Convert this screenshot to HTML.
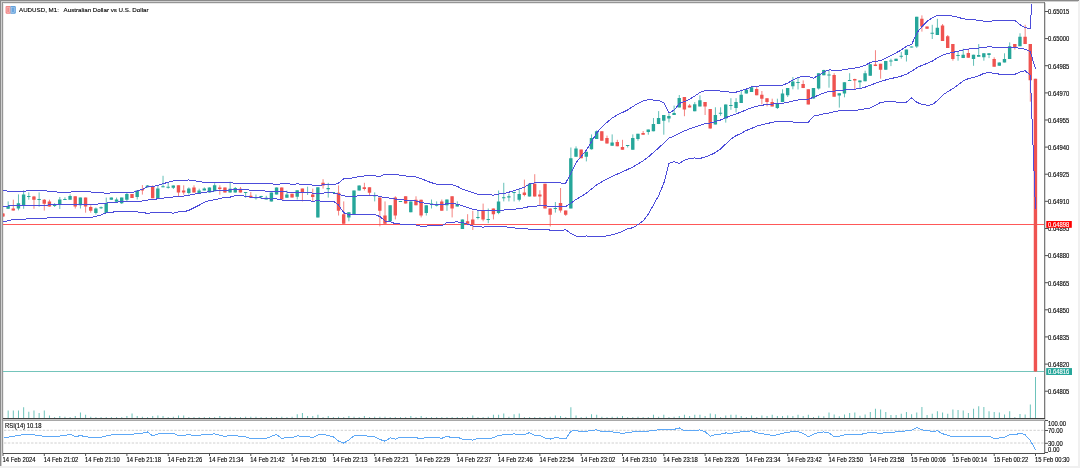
<!DOCTYPE html><html><head><meta charset="utf-8"><style>
html,body{margin:0;padding:0;width:1080px;height:468px;overflow:hidden;background:#f0f0f0;}
svg{display:block;position:absolute;left:0;top:0;}
text{font-family:"Liberation Sans",sans-serif;}
</style></head><body>
<svg width="1080" height="468" viewBox="0 0 1080 468">
<rect x="0" y="0" width="1078" height="466" fill="#ffffff"/>
<rect x="0" y="0" width="1079" height="1" fill="#8a8a8a"/>
<rect x="0" y="0" width="1" height="466" fill="#8a8a8a"/>
<rect x="1" y="1" width="1077" height="1" fill="#d0d0d0"/>
<rect x="1" y="1" width="1" height="465" fill="#d0d0d0"/>
<rect x="2" y="2" width="1043" height="1" fill="#959595"/>
<rect x="2" y="2" width="1" height="451" fill="#959595"/>
<rect x="3" y="3" width="1041" height="1" fill="#e8e8e8"/>
<rect x="3" y="3" width="1" height="450" fill="#ececec"/>
<defs><filter id="gs" x="0" y="0" width="1" height="1"><feColorMatrix type="saturate" values="0"/></filter><clipPath id="mc"><rect x="3" y="4" width="1041" height="414"/></clipPath>
<clipPath id="rc"><rect x="4" y="421" width="1040" height="32"/></clipPath></defs>
<g clip-path="url(#mc)">
<rect x="3" y="224" width="1041" height="1" fill="#ff5858"/>
<rect x="3" y="371" width="1041" height="1" fill="#74c4bb"/>
<path d="M8.16 418.00V410.50M13.32 418.00V410.50M18.49 418.00V410.50M23.65 418.00V407.25M28.81 418.00V411.75M33.97 418.00V410.50M39.14 418.00V413.00M44.30 418.00V410.50M49.46 418.00V415.50M54.62 418.00V417.10M59.79 418.00V416.00M64.95 418.00V416.75M70.11 418.00V417.10M75.27 418.00V416.00M80.44 418.00V412.50M85.60 418.00V414.75M90.76 418.00V416.75M95.92 418.00V417.10M101.09 418.00V417.10M106.25 418.00V417.10M111.41 418.00V417.10M116.57 418.00V417.10M121.74 418.00V417.10M126.90 418.00V416.00M132.06 418.00V413.50M137.22 418.00V416.00M142.39 418.00V416.75M147.55 418.00V417.10M152.71 418.00V416.00M157.88 418.00V415.50M163.04 418.00V416.00M168.20 418.00V417.10M173.36 418.00V416.75M178.52 418.00V415.50M183.69 418.00V415.50M188.85 418.00V417.10M194.01 418.00V417.10M199.17 418.00V417.10M204.34 418.00V417.10M209.50 418.00V417.10M214.66 418.00V417.10M219.82 418.00V416.00M224.99 418.00V417.10M230.15 418.00V416.75M235.31 418.00V417.10M240.47 418.00V417.10M245.64 418.00V416.75M250.80 418.00V416.75M255.96 418.00V416.75M261.12 418.00V417.10M266.29 418.00V417.10M271.45 418.00V417.10M276.61 418.00V417.10M281.77 418.00V416.75M286.94 418.00V417.10M292.10 418.00V416.75M297.26 418.00V414.25M302.42 418.00V413.00M307.59 418.00V416.00M312.75 418.00V416.00M317.91 418.00V414.75M323.07 418.00V417.10M328.24 418.00V416.00M333.40 418.00V417.10M338.56 418.00V416.75M343.72 418.00V417.10M348.89 418.00V416.00M354.05 418.00V416.75M359.21 418.00V417.10M364.38 418.00V416.00M369.54 418.00V417.10M374.70 418.00V416.75M379.86 418.00V416.75M385.02 418.00V416.75M390.19 418.00V417.10M395.35 418.00V417.10M400.51 418.00V417.10M405.67 418.00V417.10M410.84 418.00V416.00M416.00 418.00V417.10M421.16 418.00V416.00M426.32 418.00V417.10M431.49 418.00V417.10M436.65 418.00V417.10M441.81 418.00V417.10M446.97 418.00V417.10M452.14 418.00V417.10M457.30 418.00V417.10M462.46 418.00V417.10M467.62 418.00V417.10M472.79 418.00V415.50M477.95 418.00V417.10M483.11 418.00V417.10M488.27 418.00V416.75M493.44 418.00V414.75M498.60 418.00V414.75M503.76 418.00V413.50M508.92 418.00V416.75M514.09 418.00V414.25M519.25 418.00V413.50M524.41 418.00V417.10M529.57 418.00V417.10M534.74 418.00V417.10M539.90 418.00V417.10M545.06 418.00V417.10M550.22 418.00V416.75M555.39 418.00V415.50M560.55 418.00V416.00M565.71 418.00V417.10M570.88 418.00V407.25M576.04 418.00V415.50M581.20 418.00V417.10M586.36 418.00V416.75M591.52 418.00V414.25M596.69 418.00V414.75M601.85 418.00V416.75M607.01 418.00V417.10M612.17 418.00V416.75M617.34 418.00V416.75M622.50 418.00V416.00M627.66 418.00V417.10M632.82 418.00V417.10M637.99 418.00V416.75M643.15 418.00V417.10M648.31 418.00V417.10M653.47 418.00V414.75M658.64 418.00V416.75M663.80 418.00V414.75M668.96 418.00V417.10M674.12 418.00V416.75M679.29 418.00V416.00M684.45 418.00V414.75M689.61 418.00V416.00M694.77 418.00V414.75M699.94 418.00V414.75M705.10 418.00V416.00M710.26 418.00V413.50M715.42 418.00V414.25M720.59 418.00V417.10M725.75 418.00V415.50M730.91 418.00V414.75M736.07 418.00V414.75M741.24 418.00V416.00M746.40 418.00V417.10M751.56 418.00V415.50M756.72 418.00V417.10M761.89 418.00V415.50M767.05 418.00V416.00M772.21 418.00V414.75M777.38 418.00V416.00M782.54 418.00V416.00M787.70 418.00V415.50M792.86 418.00V416.00M798.02 418.00V414.75M803.19 418.00V416.00M808.35 418.00V414.75M813.51 418.00V417.00M818.67 418.00V415.75M823.84 418.00V416.25M829.00 418.00V412.50M834.16 418.00V414.50M839.32 418.00V416.25M844.49 418.00V414.50M849.65 418.00V413.00M854.81 418.00V412.50M859.97 418.00V415.75M865.14 418.00V414.50M870.30 418.00V412.00M875.46 418.00V408.75M880.62 418.00V409.50M885.79 418.00V412.00M890.95 418.00V415.00M896.11 418.00V415.00M901.27 418.00V413.75M906.44 418.00V412.00M911.60 418.00V414.25M916.76 418.00V412.50M921.92 418.00V407.00M927.09 418.00V415.00M932.25 418.00V413.75M937.41 418.00V411.25M942.57 418.00V412.50M947.74 418.00V413.75M952.90 418.00V409.50M958.06 418.00V410.00M963.22 418.00V410.50M968.39 418.00V413.00M973.55 418.00V408.75M978.71 418.00V406.25M983.87 418.00V407.00M989.04 418.00V411.25M994.20 418.00V412.00M999.36 418.00V412.50M1004.52 418.00V414.50M1009.69 418.00V411.25M1014.85 418.00V417.10M1020.01 418.00V414.00M1025.17 418.00V414.50M1030.34 418.00V404.50M1035.50 418.00V377.00" stroke="#26a69a" stroke-width="0.9" fill="none" opacity="0.75"/>
<path d="M8.16 201.40V209.00M18.49 194.40V210.30M23.65 190.30V208.80M28.81 192.40V199.70M39.14 192.40V206.70M54.62 203.20V207.00M59.79 197.00V209.00M64.95 197.30V200.00M70.11 194.40V199.70M80.44 197.60V208.50M95.92 207.50V214.60M101.09 206.50V209.00M106.25 197.60V213.00M111.41 197.60V199.70M116.57 197.60V201.80M121.74 197.60V204.00M126.90 193.00V201.40M137.22 190.50V199.50M147.55 185.00V187.50M157.88 186.00V198.80M163.04 175.80V187.30M168.20 182.80V188.60M173.36 185.40V189.00M188.85 187.40V194.70M199.17 188.70V193.50M204.34 187.40V190.40M209.50 187.40V192.60M214.66 183.20V191.30M230.15 181.70V192.60M235.31 187.00V192.60M245.64 192.00V197.70M255.96 194.50V199.60M261.12 195.80V199.00M266.29 195.80V199.40M271.45 192.60V201.50M276.61 187.40V194.50M286.94 190.60V197.70M297.26 190.30V199.50M307.59 186.70V195.00M317.91 187.30V217.40M328.24 182.80V197.60M333.40 192.00V193.00M348.89 212.30V221.30M354.05 190.50V214.90M359.21 185.40V190.50M374.70 192.40V201.40M390.19 205.30V221.30M400.51 201.00V202.00M410.84 201.40V212.30M426.32 205.30V215.50M431.49 199.50V208.50M436.65 201.40V206.50M446.97 199.50V210.80M457.30 201.40V206.50M462.46 219.40V229.00M477.95 211.00V219.40M488.27 208.50V223.20M498.60 190.50V214.20M503.76 182.80V201.40M508.92 193.70V201.40M514.09 191.80V201.40M519.25 189.20V201.40M529.57 183.80V196.60M555.39 202.00V212.60M570.88 147.50V208.40M576.04 146.40V156.70M586.36 151.80V161.40M591.52 134.40V149.60M596.69 130.40V139.00M612.17 134.40V145.80M627.66 145.00V147.50M632.82 134.40V149.70M637.99 133.80V140.70M648.31 129.60V134.70M653.47 118.00V131.30M658.64 111.10V124.10M663.80 115.00V134.70M668.96 113.30V122.40M674.12 105.60V115.00M679.29 95.00V107.40M694.77 102.10V111.30M699.94 95.30V106.40M715.42 107.30V124.40M720.59 107.30V115.80M725.75 104.40V122.60M730.91 98.20V109.80M736.07 98.20V112.40M741.24 89.70V103.00M746.40 89.70V93.60M751.56 85.90V91.90M777.38 98.70V109.00M782.54 89.30V102.10M787.70 88.00V97.00M792.86 77.00V89.30M798.02 77.50V89.50M813.51 88.10V98.60M818.67 73.20V89.60M823.84 69.80V75.30M829.00 70.00V87.70M839.32 93.20V107.60M844.49 82.20V97.30M849.65 73.20V81.00M859.97 80.40V88.60M865.14 70.70V81.30M870.30 64.00V75.80M885.79 60.90V69.80M890.95 58.70V66.10M896.11 58.70V60.90M901.27 51.90V58.70M906.44 49.60V61.50M911.60 46.50V47.50M916.76 16.80V47.90M932.25 24.80V39.00M937.41 18.80V35.00M958.06 51.30V60.70M963.22 48.70V58.10M973.55 54.70V65.80M978.71 44.10V56.80M983.87 53.30V60.70M989.04 53.30V58.10M999.36 62.40V65.80M1004.52 53.30V62.40M1009.69 42.40V59.00M1020.01 33.30V46.20" stroke="#26a69a" stroke-width="0.9" fill="none" opacity="0.8"/>
<path d="M6.41 206.00h3.4v2.80h-3.4zM16.74 203.20h3.4v5.30h-3.4zM21.90 194.40h3.4v10.90h-3.4zM27.06 196.00h3.4v1.00h-3.4zM37.39 199.00h3.4v1.00h-3.4zM52.88 205.00h3.4v1.00h-3.4zM58.04 199.40h3.4v5.60h-3.4zM63.20 199.00h3.4v1.00h-3.4zM68.36 196.00h3.4v3.70h-3.4zM78.69 197.60h3.4v7.70h-3.4zM94.17 208.50h3.4v4.50h-3.4zM99.34 207.30h3.4v1.00h-3.4zM104.50 203.00h3.4v10.00h-3.4zM109.66 197.60h3.4v2.10h-3.4zM114.82 199.50h3.4v2.30h-3.4zM119.99 197.60h3.4v5.70h-3.4zM125.15 194.00h3.4v5.70h-3.4zM135.47 190.50h3.4v6.50h-3.4zM145.80 185.40h3.4v1.90h-3.4zM156.12 188.60h3.4v10.20h-3.4zM161.29 186.30h3.4v1.00h-3.4zM166.45 186.70h3.4v1.00h-3.4zM171.61 185.40h3.4v2.30h-3.4zM187.10 188.50h3.4v4.50h-3.4zM197.42 190.40h3.4v3.10h-3.4zM202.59 188.50h3.4v1.90h-3.4zM207.75 187.40h3.4v5.20h-3.4zM212.91 185.30h3.4v6.00h-3.4zM228.40 188.70h3.4v3.90h-3.4zM233.56 188.10h3.4v4.50h-3.4zM243.89 192.10h3.4v1.00h-3.4zM254.21 197.20h3.4v1.00h-3.4zM259.38 196.00h3.4v1.00h-3.4zM264.54 197.70h3.4v1.70h-3.4zM269.70 192.60h3.4v8.90h-3.4zM274.86 187.40h3.4v7.10h-3.4zM285.19 194.50h3.4v3.20h-3.4zM295.51 190.30h3.4v6.40h-3.4zM305.84 192.00h3.4v1.00h-3.4zM316.16 187.30h3.4v30.10h-3.4zM326.49 188.00h3.4v1.20h-3.4zM331.65 192.00h3.4v1.00h-3.4zM347.14 212.30h3.4v5.10h-3.4zM352.30 190.50h3.4v24.40h-3.4zM357.46 185.40h3.4v5.10h-3.4zM372.95 195.20h3.4v1.00h-3.4zM388.44 205.30h3.4v16.00h-3.4zM398.76 201.00h3.4v1.00h-3.4zM409.09 201.40h3.4v10.90h-3.4zM424.57 205.30h3.4v7.70h-3.4zM429.74 203.50h3.4v1.00h-3.4zM434.90 204.80h3.4v1.00h-3.4zM445.22 199.50h3.4v5.80h-3.4zM455.55 204.00h3.4v2.50h-3.4zM460.71 219.40h3.4v9.60h-3.4zM476.20 217.00h3.4v1.00h-3.4zM486.52 219.00h3.4v1.00h-3.4zM496.85 201.40h3.4v11.60h-3.4zM502.01 197.20h3.4v1.00h-3.4zM507.17 196.30h3.4v1.30h-3.4zM512.34 192.00h3.4v1.00h-3.4zM517.50 194.10h3.4v5.60h-3.4zM527.82 183.80h3.4v12.80h-3.4zM553.64 207.90h3.4v1.00h-3.4zM569.12 158.20h3.4v50.20h-3.4zM574.29 148.50h3.4v8.20h-3.4zM584.61 151.80h3.4v4.90h-3.4zM589.77 138.10h3.4v11.10h-3.4zM594.94 131.30h3.4v7.70h-3.4zM610.42 142.40h3.4v3.40h-3.4zM625.91 145.00h3.4v1.00h-3.4zM631.07 138.10h3.4v11.60h-3.4zM636.24 133.80h3.4v5.20h-3.4zM646.56 129.60h3.4v2.50h-3.4zM651.72 124.10h3.4v7.20h-3.4zM656.89 118.00h3.4v6.10h-3.4zM662.05 115.00h3.4v5.70h-3.4zM667.21 115.90h3.4v2.60h-3.4zM672.38 113.00h3.4v2.00h-3.4zM677.54 98.00h3.4v9.40h-3.4zM693.02 104.20h3.4v7.10h-3.4zM698.19 100.20h3.4v6.20h-3.4zM713.67 115.00h3.4v9.40h-3.4zM718.84 112.70h3.4v1.00h-3.4zM724.00 104.40h3.4v14.00h-3.4zM729.16 105.10h3.4v1.00h-3.4zM734.32 102.10h3.4v6.00h-3.4zM739.49 94.80h3.4v8.20h-3.4zM744.65 89.70h3.4v3.90h-3.4zM749.81 87.30h3.4v4.60h-3.4zM775.62 103.30h3.4v4.80h-3.4zM780.79 93.60h3.4v8.50h-3.4zM785.95 88.00h3.4v7.30h-3.4zM791.11 81.60h3.4v4.60h-3.4zM796.27 82.00h3.4v1.00h-3.4zM811.76 88.10h3.4v10.50h-3.4zM816.92 73.20h3.4v15.40h-3.4zM822.09 70.10h3.4v5.20h-3.4zM827.25 74.50h3.4v1.00h-3.4zM837.57 93.20h3.4v2.20h-3.4zM842.74 82.20h3.4v11.30h-3.4zM847.90 80.00h3.4v1.00h-3.4zM858.22 80.40h3.4v1.80h-3.4zM863.39 73.20h3.4v8.10h-3.4zM868.55 64.20h3.4v11.60h-3.4zM884.04 60.90h3.4v8.90h-3.4zM889.20 60.40h3.4v1.20h-3.4zM894.36 58.70h3.4v2.20h-3.4zM899.52 55.70h3.4v1.00h-3.4zM904.69 49.60h3.4v5.40h-3.4zM909.85 46.50h3.4v1.00h-3.4zM915.01 16.80h3.4v29.70h-3.4zM930.50 32.80h3.4v1.00h-3.4zM935.66 27.70h3.4v7.30h-3.4zM956.31 55.10h3.4v1.00h-3.4zM961.47 54.70h3.4v3.40h-3.4zM971.80 54.70h3.4v4.30h-3.4zM976.96 55.00h3.4v1.80h-3.4zM982.12 53.30h3.4v4.00h-3.4zM987.29 53.30h3.4v1.70h-3.4zM997.61 62.40h3.4v3.40h-3.4zM1002.77 59.00h3.4v3.40h-3.4zM1007.94 46.20h3.4v12.80h-3.4zM1018.26 36.80h3.4v9.40h-3.4z" fill="#26a69a"/>
<path d="M3.00 213.00V217.00M13.32 199.70V210.60M33.97 195.90V208.80M44.30 199.00V210.60M49.46 199.70V206.70M75.27 196.30V208.50M85.60 197.60V212.70M90.76 205.30V212.70M132.06 194.10V198.00M142.39 185.10V194.60M152.71 185.40V198.20M178.52 185.30V196.40M183.69 185.30V194.70M194.01 185.30V192.60M219.82 185.30V194.70M224.99 187.40V192.60M240.47 187.00V192.60M250.80 192.00V197.70M281.77 187.40V199.60M292.10 193.70V197.60M302.42 188.60V201.40M312.75 188.60V201.40M323.07 179.20V188.60M338.56 185.40V215.50M343.72 201.40V223.80M364.38 182.80V190.50M369.54 187.30V195.00M379.86 197.60V226.40M385.02 201.40V223.80M395.35 196.30V219.40M405.67 196.30V203.60M416.00 196.30V205.30M421.16 199.70V217.40M441.81 199.50V210.80M452.14 196.30V217.40M467.62 214.20V223.80M472.79 210.80V230.00M483.11 203.60V221.30M493.44 208.50V219.40M524.41 179.60V196.30M534.74 174.20V196.60M539.90 190.20V205.20M545.06 183.80V208.40M550.22 208.40V226.50M560.55 188.00V212.60M565.71 210.50V215.90M581.20 149.60V158.20M601.85 131.30V140.70M607.01 135.60V143.60M617.34 139.80V146.30M622.50 139.80V149.70M643.15 131.00V134.70M684.45 97.10V116.20M689.61 104.00V107.40M705.10 102.10V115.00M710.26 109.00V128.60M756.72 86.80V95.30M761.89 91.00V104.40M767.05 98.20V106.40M772.21 98.70V106.40M803.19 80.40V88.10M808.35 89.30V104.40M834.16 73.20V96.70M854.81 78.70V89.00M875.46 50.20V66.10M880.62 63.80V78.70M921.92 15.40V31.60M927.09 26.50V28.70M942.57 24.00V41.00M947.74 35.00V47.90M952.90 44.10V60.70M968.39 48.70V57.80M994.20 57.30V66.70M1014.85 44.10V49.60M1025.17 24.80V44.10M1030.34 44.10V101.70M1035.50 78.80V371.50" stroke="#ef5350" stroke-width="0.9" fill="none" opacity="0.8"/>
<path d="M1.25 213.50h3.4v3.00h-3.4zM11.57 208.50h3.4v2.10h-3.4zM32.22 196.40h3.4v3.30h-3.4zM42.55 199.70h3.4v4.10h-3.4zM47.71 201.40h3.4v5.10h-3.4zM73.52 196.30h3.4v10.20h-3.4zM83.85 197.60h3.4v8.90h-3.4zM89.01 207.00h3.4v3.80h-3.4zM130.31 194.10h3.4v3.90h-3.4zM140.64 189.00h3.4v1.50h-3.4zM150.96 186.70h3.4v11.50h-3.4zM176.77 185.30h3.4v7.30h-3.4zM181.94 190.40h3.4v2.20h-3.4zM192.26 187.40h3.4v5.20h-3.4zM218.07 187.40h3.4v1.70h-3.4zM223.24 187.40h3.4v5.20h-3.4zM238.72 188.70h3.4v3.90h-3.4zM249.05 195.80h3.4v1.90h-3.4zM280.02 187.40h3.4v12.20h-3.4zM290.35 193.70h3.4v3.90h-3.4zM300.67 188.60h3.4v3.80h-3.4zM311.00 194.40h3.4v2.60h-3.4zM321.32 182.80h3.4v2.60h-3.4zM336.81 192.80h3.4v18.00h-3.4zM341.97 214.20h3.4v9.60h-3.4zM362.62 187.30h3.4v1.70h-3.4zM367.79 187.30h3.4v5.50h-3.4zM378.11 197.60h3.4v13.20h-3.4zM383.27 215.50h3.4v8.30h-3.4zM393.60 197.60h3.4v17.90h-3.4zM403.92 196.30h3.4v7.30h-3.4zM414.25 199.70h3.4v5.60h-3.4zM419.41 199.70h3.4v15.80h-3.4zM440.06 201.40h3.4v9.40h-3.4zM450.39 196.30h3.4v12.20h-3.4zM465.87 221.30h3.4v2.50h-3.4zM471.04 219.40h3.4v5.70h-3.4zM481.36 210.80h3.4v8.60h-3.4zM491.69 208.50h3.4v5.70h-3.4zM522.66 192.40h3.4v2.60h-3.4zM532.99 183.80h3.4v12.80h-3.4zM538.15 194.50h3.4v2.10h-3.4zM543.31 183.80h3.4v24.60h-3.4zM548.47 208.40h3.4v6.40h-3.4zM558.80 203.00h3.4v7.50h-3.4zM563.96 210.50h3.4v4.30h-3.4zM579.45 149.60h3.4v8.60h-3.4zM600.10 131.30h3.4v9.40h-3.4zM605.26 138.10h3.4v5.50h-3.4zM615.59 141.90h3.4v4.40h-3.4zM620.75 147.00h3.4v2.70h-3.4zM641.40 133.00h3.4v1.70h-3.4zM682.70 97.10h3.4v12.30h-3.4zM687.86 105.60h3.4v1.80h-3.4zM703.35 102.10h3.4v4.30h-3.4zM708.51 109.00h3.4v19.60h-3.4zM754.97 89.00h3.4v6.30h-3.4zM760.14 94.80h3.4v3.90h-3.4zM765.30 98.20h3.4v3.90h-3.4zM770.46 102.10h3.4v4.30h-3.4zM801.44 84.00h3.4v4.10h-3.4zM806.60 89.30h3.4v15.10h-3.4zM832.41 74.90h3.4v21.80h-3.4zM853.06 79.10h3.4v1.50h-3.4zM873.71 64.40h3.4v1.70h-3.4zM878.87 63.80h3.4v6.00h-3.4zM920.17 18.80h3.4v7.70h-3.4zM925.34 26.50h3.4v2.20h-3.4zM940.82 25.60h3.4v15.40h-3.4zM945.99 36.20h3.4v11.70h-3.4zM951.15 44.10h3.4v14.90h-3.4zM966.64 53.00h3.4v4.80h-3.4zM992.45 59.00h3.4v7.70h-3.4zM1013.10 44.10h3.4v3.80h-3.4zM1023.42 36.80h3.4v7.30h-3.4zM1028.59 44.10h3.4v36.20h-3.4zM1033.75 78.80h3.4v292.70h-3.4z" fill="#ef5350"/>
<polyline points="3.00,190.30 8.16,191.30 13.32,191.89 18.49,191.54 23.65,191.18 28.81,190.82 33.97,190.47 39.14,190.45 44.30,190.75 49.46,191.18 54.62,191.78 59.79,192.38 64.95,192.23 70.11,192.04 75.27,191.86 80.44,191.68 85.60,191.50 90.76,192.03 95.92,192.56 101.09,192.44 106.25,193.40 111.41,192.80 116.57,192.87 121.74,192.40 126.90,192.32 132.06,192.54 137.22,190.87 142.39,189.41 147.55,186.74 152.71,186.65 157.88,185.25 163.04,183.66 168.20,182.30 173.36,180.88 178.52,180.70 183.69,180.38 188.85,179.92 194.01,180.78 199.17,181.50 204.34,182.41 209.50,182.69 214.66,182.12 219.82,182.48 224.99,182.85 230.15,182.77 235.31,183.27 240.47,183.24 245.64,183.22 250.80,183.26 255.96,183.34 261.12,183.27 266.29,183.43 271.45,183.90 276.61,184.28 281.77,183.83 286.94,183.85 292.10,184.13 297.26,183.96 302.42,184.11 307.59,184.51 312.75,185.15 317.91,185.60 323.07,184.87 328.24,184.35 333.40,184.74 338.56,183.11 343.72,178.74 348.89,178.33 354.05,177.78 359.21,176.59 364.38,175.99 369.54,175.75 374.70,175.94 379.86,176.33 385.02,174.27 390.19,174.62 395.35,174.34 400.51,175.21 405.67,175.95 410.84,176.65 416.00,177.04 421.16,178.53 426.32,180.82 431.49,182.76 436.65,184.09 441.81,184.09 446.97,184.67 452.14,184.76 457.30,186.41 462.46,189.13 467.62,191.01 472.79,192.41 477.95,194.34 483.11,194.28 488.27,194.65 493.44,195.21 498.60,194.12 503.76,193.44 508.92,192.22 514.09,190.55 519.25,188.91 524.41,187.29 529.57,183.71 534.74,182.95 539.90,182.14 545.06,182.10 550.22,182.72 555.39,182.72 560.55,183.01 565.71,183.18 570.88,173.09 576.04,162.62 581.20,156.53 586.36,150.17 591.52,141.68 596.69,132.81 601.85,126.98 607.01,122.37 612.17,118.10 617.34,114.87 622.50,112.49 627.66,109.94 632.82,106.55 637.99,103.33 643.15,100.90 648.31,99.67 653.47,100.01 658.64,100.21 663.80,102.93 668.96,112.91 674.12,110.14 679.29,103.48 684.45,101.58 689.61,99.28 694.77,96.08 699.94,92.48 705.10,90.54 710.26,90.96 715.42,90.70 720.59,91.02 725.75,91.44 730.91,92.27 736.07,92.15 741.24,90.69 746.40,89.02 751.56,86.81 756.72,86.16 761.89,85.72 767.05,85.56 772.21,85.78 777.38,85.76 782.54,85.16 787.70,83.14 792.86,80.01 798.02,77.50 803.19,76.31 808.35,76.32 813.51,78.21 818.67,75.23 823.84,72.06 829.00,69.89 834.16,70.28 839.32,70.43 844.49,69.57 849.65,68.70 854.81,68.02 859.97,67.14 865.14,65.43 870.30,62.49 875.46,61.19 880.62,60.81 885.79,58.10 890.95,55.48 896.11,52.83 901.27,49.97 906.44,46.26 911.60,44.63 916.76,33.12 921.92,26.54 927.09,21.40 932.25,17.73 937.41,15.13 942.57,15.20 947.74,15.37 952.90,16.24 958.06,17.32 963.22,18.74 968.39,19.59 973.55,19.81 978.71,20.21 983.87,21.08 989.04,21.29 994.20,20.81 999.36,20.62 1004.52,20.55 1009.69,20.39 1014.85,20.44 1020.01,24.77 1025.17,27.76 1030.34,28.52 1035.50,-71.85" fill="none" stroke="#4c4cda" stroke-width="1" shape-rendering="crispEdges"/>
<polyline points="3.00,206.70 8.16,205.99 13.32,205.43 18.49,205.21 23.65,205.01 28.81,205.23 33.97,205.44 39.14,205.34 44.30,205.12 49.46,204.98 54.62,204.94 59.79,204.90 64.95,204.79 70.11,204.68 75.27,204.57 80.44,204.46 85.60,204.35 90.76,204.24 95.92,204.13 101.09,203.74 106.25,203.06 111.41,202.65 116.57,202.09 121.74,201.81 126.90,201.79 132.06,201.87 137.22,201.41 142.39,200.96 147.55,200.04 152.71,199.62 157.88,198.78 163.04,198.15 168.20,197.53 173.36,197.00 178.52,196.31 183.69,196.05 188.85,195.16 194.01,194.24 199.17,193.34 204.34,192.38 209.50,191.59 214.66,190.98 219.82,190.46 224.99,190.21 230.15,189.94 235.31,189.45 240.47,189.56 245.64,189.66 250.80,190.27 255.96,190.25 261.12,190.64 266.29,191.19 271.45,191.46 276.61,191.56 281.77,191.91 286.94,192.00 292.10,192.46 297.26,192.34 302.42,192.45 307.59,192.65 312.75,193.12 317.91,193.22 323.07,193.04 328.24,192.81 333.40,193.00 338.56,194.14 343.72,195.70 348.89,196.68 354.05,196.32 359.21,195.71 364.38,195.33 369.54,195.09 374.70,195.24 379.86,196.41 385.02,197.62 390.19,198.16 395.35,199.06 400.51,199.62 405.67,200.18 410.84,200.62 416.00,201.04 421.16,202.44 426.32,203.44 431.49,204.24 436.65,204.88 441.81,204.88 446.97,203.67 452.14,203.48 457.30,204.15 462.46,205.85 467.62,207.59 472.79,209.21 477.95,210.30 483.11,210.72 488.27,210.51 493.44,210.96 498.60,210.25 503.76,210.06 508.92,209.69 514.09,209.25 519.25,208.69 524.41,207.67 529.57,206.59 534.74,206.22 539.90,205.78 545.06,205.67 550.22,206.43 555.39,206.43 560.55,206.75 565.71,206.52 570.88,203.24 576.04,199.41 581.20,196.44 586.36,193.06 591.52,189.00 596.69,184.85 601.85,181.81 607.01,179.11 612.17,176.42 617.34,174.10 622.50,171.88 627.66,169.41 632.82,167.12 637.99,163.98 643.15,160.89 648.31,156.95 653.47,152.42 658.64,147.89 663.80,143.12 668.96,138.18 674.12,135.92 679.29,133.39 684.45,130.95 689.61,128.73 694.77,127.03 699.94,125.48 705.10,123.76 710.26,123.01 715.42,121.65 720.59,119.99 725.75,117.72 730.91,115.73 736.07,113.93 741.24,111.98 746.40,109.73 751.56,107.62 756.72,106.17 761.89,105.21 767.05,104.57 772.21,104.09 777.38,103.60 782.54,103.39 787.70,102.31 792.86,101.02 798.02,99.94 803.19,99.33 808.35,99.23 813.51,97.21 818.67,95.12 823.84,92.97 829.00,91.49 834.16,91.05 839.32,90.60 844.49,89.98 849.65,89.52 854.81,89.18 859.97,88.44 865.14,87.16 870.30,85.27 875.46,83.25 880.62,81.58 885.79,79.94 890.95,78.56 896.11,77.42 901.27,76.10 906.44,74.17 911.60,71.30 916.76,67.74 921.92,65.41 927.09,63.34 932.25,61.25 937.41,57.80 942.57,55.19 947.74,53.48 952.90,52.40 958.06,51.15 963.22,49.86 968.39,49.09 973.55,48.62 978.71,48.07 983.87,47.24 989.04,46.86 994.20,47.17 999.36,47.36 1004.52,47.50 1009.69,47.33 1014.85,47.38 1020.01,48.37 1025.17,49.25 1030.34,51.83 1035.50,68.74" fill="none" stroke="#4c4cda" stroke-width="1" shape-rendering="crispEdges"/>
<polyline points="3.00,222.00 8.16,220.78 13.32,219.56 18.49,219.25 23.65,219.08 28.81,218.91 33.97,218.73 39.14,218.46 44.30,218.15 49.46,217.85 54.62,217.55 59.79,217.31 64.95,217.38 70.11,217.44 75.27,217.51 80.44,217.57 85.60,217.63 90.76,217.70 95.92,216.35 101.09,215.04 106.25,212.73 111.41,212.49 116.57,211.31 121.74,211.22 126.90,211.26 132.06,211.19 137.22,211.94 142.39,212.50 147.55,213.33 152.71,212.59 157.88,212.30 163.04,212.63 168.20,212.76 173.36,213.12 178.52,211.91 183.69,211.73 188.85,210.39 194.01,207.71 199.17,205.18 204.34,202.34 209.50,200.50 214.66,199.84 219.82,198.44 224.99,197.57 230.15,197.12 235.31,195.63 240.47,195.87 245.64,196.10 250.80,197.29 255.96,197.16 261.12,198.02 266.29,198.95 271.45,199.02 276.61,198.84 281.77,199.99 286.94,200.16 292.10,200.79 297.26,200.73 302.42,200.78 307.59,200.78 312.75,201.10 317.91,200.85 323.07,201.21 328.24,201.27 333.40,201.26 338.56,205.16 343.72,212.65 348.89,215.03 354.05,214.86 359.21,214.82 364.38,214.67 369.54,214.42 374.70,214.54 379.86,216.49 385.02,220.97 390.19,221.70 395.35,223.77 400.51,224.02 405.67,224.40 410.84,224.59 416.00,225.03 421.16,226.36 426.32,226.06 431.49,225.72 436.65,225.67 441.81,225.67 446.97,222.66 452.14,222.19 457.30,221.89 462.46,222.57 467.62,224.17 472.79,226.00 477.95,226.25 483.11,227.17 488.27,226.37 493.44,226.70 498.60,226.38 503.76,226.68 508.92,227.17 514.09,227.95 519.25,228.47 524.41,228.04 529.57,229.47 534.74,229.49 539.90,229.43 545.06,229.23 550.22,230.14 555.39,230.13 560.55,230.49 565.71,229.86 570.88,233.39 576.04,236.20 581.20,236.36 586.36,235.96 591.52,236.31 596.69,236.89 601.85,236.65 607.01,235.85 612.17,234.73 617.34,233.34 622.50,231.28 627.66,228.88 632.82,227.70 637.99,224.64 643.15,220.88 648.31,214.23 653.47,204.82 658.64,195.58 663.80,183.31 668.96,163.44 674.12,161.69 679.29,163.30 684.45,160.32 689.61,158.18 694.77,157.99 699.94,158.48 705.10,156.99 710.26,155.07 715.42,152.59 720.59,148.96 725.75,144.01 730.91,139.19 736.07,135.71 741.24,133.27 746.40,130.44 751.56,128.42 756.72,126.19 761.89,124.70 767.05,123.57 772.21,122.40 777.38,121.45 782.54,121.61 787.70,121.49 792.86,122.04 798.02,122.38 803.19,122.36 808.35,122.15 813.51,116.21 818.67,115.01 823.84,113.87 829.00,113.10 834.16,111.82 839.32,110.78 844.49,110.38 849.65,110.33 854.81,110.34 859.97,109.73 865.14,108.89 870.30,108.04 875.46,105.31 880.62,102.34 885.79,101.78 890.95,101.64 896.11,102.00 901.27,102.23 906.44,102.09 911.60,97.98 916.76,102.36 921.92,104.27 927.09,105.27 932.25,104.77 937.41,100.47 942.57,95.18 947.74,91.58 952.90,88.56 958.06,84.98 963.22,80.99 968.39,78.60 973.55,77.43 978.71,75.92 983.87,73.40 989.04,72.43 994.20,73.54 999.36,74.10 1004.52,74.45 1009.69,74.27 1014.85,74.31 1020.01,71.98 1025.17,70.75 1030.34,75.15 1035.50,209.34" fill="none" stroke="#4c4cda" stroke-width="1" shape-rendering="crispEdges"/>
</g>
<path d="M10.5 5.9H6.8Q5.6 5.9 5.6 7.1V12.6Q5.6 13.8 6.8 13.8H10.5Z" fill="#f07c7c"/>
<path d="M10.5 5.9H14.6Q15.8 5.9 15.8 7.1V12.6Q15.8 13.8 14.6 13.8H10.5Z" fill="#5a9bd8"/>
<rect x="6.9" y="7.2" width="2.6" height="5.3" fill="#f09090" stroke="#f8c4c4" stroke-width="0.6"/>
<rect x="11.6" y="7.2" width="2.9" height="5.3" fill="#6aa6e0" stroke="#b4d4f0" stroke-width="0.6"/>
<rect x="1044" y="2" width="1" height="451" fill="#7a7a7a"/>
<rect x="1045" y="3" width="1" height="450" fill="#d8d8d8"/>
<rect x="3" y="418" width="1042" height="1" fill="#404040"/>
<rect x="3" y="419" width="1042" height="1" fill="#c8c8c8"/>
<rect x="3" y="420" width="1042" height="1" fill="#a8a8a8"/>
<rect x="3" y="453" width="1042" height="1" fill="#505050"/>
<rect x="1045" y="11.0" width="3" height="1" fill="#505050"/>
<rect x="1045" y="38.1" width="3" height="1" fill="#505050"/>
<rect x="1045" y="65.2" width="3" height="1" fill="#505050"/>
<rect x="1045" y="92.4" width="3" height="1" fill="#505050"/>
<rect x="1045" y="119.5" width="3" height="1" fill="#505050"/>
<rect x="1045" y="146.6" width="3" height="1" fill="#505050"/>
<rect x="1045" y="173.7" width="3" height="1" fill="#505050"/>
<rect x="1045" y="200.8" width="3" height="1" fill="#505050"/>
<rect x="1045" y="228.0" width="3" height="1" fill="#505050"/>
<rect x="1045" y="255.1" width="3" height="1" fill="#505050"/>
<rect x="1045" y="282.2" width="3" height="1" fill="#505050"/>
<rect x="1045" y="309.3" width="3" height="1" fill="#505050"/>
<rect x="1045" y="336.4" width="3" height="1" fill="#505050"/>
<rect x="1045" y="363.6" width="3" height="1" fill="#505050"/>
<rect x="1045" y="390.7" width="3" height="1" fill="#505050"/>
<g clip-path="url(#rc)">
<line x1="4" y1="430.3" x2="1044" y2="430.3" stroke="#d0d0d0" stroke-width="1" stroke-dasharray="2.4,1.47"/>
<line x1="4" y1="443.0" x2="1044" y2="443.0" stroke="#d0d0d0" stroke-width="1" stroke-dasharray="2.4,1.47"/>
<polyline points="3.00,438.00 8.16,437.08 13.32,436.25 18.49,435.39 23.65,434.49 28.81,434.50 33.97,434.94 39.14,435.60 44.30,436.27 49.46,436.93 54.62,436.54 59.79,436.02 64.95,435.50 70.11,434.31 75.27,436.68 80.44,435.59 85.60,436.62 90.76,437.50 95.92,437.50 101.09,437.23 106.25,435.94 111.41,434.93 116.57,434.67 121.74,434.41 126.90,434.57 132.06,434.75 137.22,433.06 142.39,433.06 147.55,431.99 152.71,435.98 157.88,433.95 163.04,433.60 168.20,433.72 173.36,433.34 178.52,435.54 183.69,435.54 188.85,434.52 194.01,435.80 199.17,435.22 204.34,434.72 209.50,434.42 214.66,433.86 219.82,435.29 224.99,436.51 230.15,435.30 235.31,435.12 240.47,436.76 245.64,436.76 250.80,438.50 255.96,438.50 261.12,438.00 266.29,438.44 271.45,436.32 276.61,434.50 281.77,438.70 286.94,437.03 292.10,437.95 297.26,435.76 302.42,436.41 307.59,436.45 312.75,437.86 317.91,435.02 323.07,434.54 328.24,435.41 333.40,436.84 338.56,441.08 343.72,443.07 348.89,440.00 354.05,435.78 359.21,434.99 364.38,435.68 369.54,436.40 374.70,436.95 379.86,439.46 385.02,441.17 390.19,437.85 395.35,439.18 400.51,437.05 405.67,437.35 410.84,437.01 416.00,437.60 421.16,439.06 426.32,437.36 431.49,437.15 436.65,437.36 441.81,438.26 446.97,436.29 452.14,437.76 457.30,436.99 462.46,439.27 467.62,439.85 472.79,440.02 477.95,438.54 483.11,438.83 488.27,438.85 493.44,437.73 498.60,435.39 503.76,434.79 508.92,434.56 514.09,433.92 519.25,434.31 524.41,434.54 529.57,432.60 534.74,435.60 539.90,435.60 545.06,437.97 550.22,439.08 555.39,437.73 560.55,438.12 565.71,438.90 570.88,431.11 576.04,430.35 581.20,432.01 586.36,431.45 591.52,430.35 596.69,429.86 601.85,431.51 607.01,432.01 612.17,431.90 617.34,432.63 622.50,433.27 627.66,432.76 632.82,431.91 637.99,431.43 643.15,431.64 648.31,431.04 653.47,430.43 658.64,429.78 663.80,429.47 668.96,429.73 674.12,429.40 679.29,427.94 684.45,430.97 689.61,430.75 694.77,430.37 699.94,429.91 705.10,431.61 710.26,436.34 715.42,434.35 720.59,434.11 725.75,432.96 730.91,433.21 736.07,432.74 741.24,431.80 746.40,431.19 751.56,430.91 756.72,432.88 761.89,433.66 767.05,434.45 772.21,435.42 777.38,434.84 782.54,433.20 787.70,432.36 792.86,431.47 798.02,431.72 803.19,433.24 808.35,436.85 813.51,434.19 818.67,432.32 823.84,431.97 829.00,433.00 834.16,436.78 839.32,436.27 844.49,434.76 849.65,434.54 854.81,434.55 859.97,434.52 865.14,433.45 870.30,432.25 875.46,432.69 880.62,433.54 885.79,432.28 890.95,432.21 896.11,431.97 901.27,431.60 906.44,430.68 911.60,430.33 916.76,427.43 921.92,429.85 927.09,430.37 932.25,431.47 937.41,430.83 942.57,433.76 947.74,435.09 952.90,437.00 958.06,436.45 963.22,436.30 968.39,436.87 973.55,436.29 978.71,436.35 983.87,436.01 989.04,436.01 994.20,438.86 999.36,437.87 1004.52,437.10 1009.69,434.59 1014.85,434.98 1020.01,433.11 1025.17,434.80 1030.34,440.48 1035.50,449.61" fill="none" stroke="#5ea8f6" stroke-width="1" shape-rendering="crispEdges"/>
</g>
<rect x="1045" y="420.0" width="3" height="1" fill="#505050"/>
<rect x="1045" y="430.0" width="3" height="1" fill="#505050"/>
<rect x="1045" y="442.8" width="3" height="1" fill="#505050"/>
<rect x="1045" y="452.0" width="3" height="1" fill="#505050"/>
<rect x="2.5" y="453" width="1" height="3" fill="#505050"/>
<rect x="43.8" y="453" width="1" height="3" fill="#505050"/>
<rect x="85.1" y="453" width="1" height="3" fill="#505050"/>
<rect x="126.4" y="453" width="1" height="3" fill="#505050"/>
<rect x="167.7" y="453" width="1" height="3" fill="#505050"/>
<rect x="209.0" y="453" width="1" height="3" fill="#505050"/>
<rect x="250.3" y="453" width="1" height="3" fill="#505050"/>
<rect x="291.6" y="453" width="1" height="3" fill="#505050"/>
<rect x="332.9" y="453" width="1" height="3" fill="#505050"/>
<rect x="374.2" y="453" width="1" height="3" fill="#505050"/>
<rect x="415.5" y="453" width="1" height="3" fill="#505050"/>
<rect x="456.8" y="453" width="1" height="3" fill="#505050"/>
<rect x="498.1" y="453" width="1" height="3" fill="#505050"/>
<rect x="539.4" y="453" width="1" height="3" fill="#505050"/>
<rect x="580.7" y="453" width="1" height="3" fill="#505050"/>
<rect x="622.0" y="453" width="1" height="3" fill="#505050"/>
<rect x="663.3" y="453" width="1" height="3" fill="#505050"/>
<rect x="704.6" y="453" width="1" height="3" fill="#505050"/>
<rect x="745.9" y="453" width="1" height="3" fill="#505050"/>
<rect x="787.2" y="453" width="1" height="3" fill="#505050"/>
<rect x="828.5" y="453" width="1" height="3" fill="#505050"/>
<rect x="869.8" y="453" width="1" height="3" fill="#505050"/>
<rect x="911.1" y="453" width="1" height="3" fill="#505050"/>
<rect x="952.4" y="453" width="1" height="3" fill="#505050"/>
<rect x="993.7" y="453" width="1" height="3" fill="#505050"/>
<rect x="1035.0" y="453" width="1" height="3" fill="#505050"/>
<g filter="url(#gs)"><text transform="translate(19.00 12.30) scale(1.000 1)" font-size="6.20" fill="#000" stroke="#000" stroke-width="0.12">AUDUSD, M1:</text><text transform="translate(63.60 12.30) scale(1.000 1)" font-size="6.20" fill="#000" stroke="#000" stroke-width="0.12">Australian Dollar vs U.S. Dollar</text><text transform="translate(1048.00 14.30) scale(0.920 1)" font-size="6.40" fill="#000" stroke="#000" stroke-width="0.12">0.65015</text><text transform="translate(1048.00 41.42) scale(0.920 1)" font-size="6.40" fill="#000" stroke="#000" stroke-width="0.12">0.65000</text><text transform="translate(1048.00 68.54) scale(0.920 1)" font-size="6.40" fill="#000" stroke="#000" stroke-width="0.12">0.64985</text><text transform="translate(1048.00 95.66) scale(0.920 1)" font-size="6.40" fill="#000" stroke="#000" stroke-width="0.12">0.64970</text><text transform="translate(1048.00 122.78) scale(0.920 1)" font-size="6.40" fill="#000" stroke="#000" stroke-width="0.12">0.64955</text><text transform="translate(1048.00 149.90) scale(0.920 1)" font-size="6.40" fill="#000" stroke="#000" stroke-width="0.12">0.64940</text><text transform="translate(1048.00 177.02) scale(0.920 1)" font-size="6.40" fill="#000" stroke="#000" stroke-width="0.12">0.64925</text><text transform="translate(1048.00 204.14) scale(0.920 1)" font-size="6.40" fill="#000" stroke="#000" stroke-width="0.12">0.64910</text><text transform="translate(1048.00 231.26) scale(0.920 1)" font-size="6.40" fill="#000" stroke="#000" stroke-width="0.12">0.64895</text><text transform="translate(1048.00 258.38) scale(0.920 1)" font-size="6.40" fill="#000" stroke="#000" stroke-width="0.12">0.64880</text><text transform="translate(1048.00 285.50) scale(0.920 1)" font-size="6.40" fill="#000" stroke="#000" stroke-width="0.12">0.64865</text><text transform="translate(1048.00 312.62) scale(0.920 1)" font-size="6.40" fill="#000" stroke="#000" stroke-width="0.12">0.64850</text><text transform="translate(1048.00 339.74) scale(0.920 1)" font-size="6.40" fill="#000" stroke="#000" stroke-width="0.12">0.64835</text><text transform="translate(1048.00 366.86) scale(0.920 1)" font-size="6.40" fill="#000" stroke="#000" stroke-width="0.12">0.64820</text><text transform="translate(1048.00 393.98) scale(0.920 1)" font-size="6.40" fill="#000" stroke="#000" stroke-width="0.12">0.64805</text><text transform="translate(5.00 428.30) scale(0.920 1)" font-size="6.40" fill="#000" stroke="#000" stroke-width="0.12">RSI(14) 10.18</text><text transform="translate(1048.00 425.50) scale(0.920 1)" font-size="6.40" fill="#000" stroke="#000" stroke-width="0.12">100.00</text><text transform="translate(1048.00 432.80) scale(0.920 1)" font-size="6.40" fill="#000" stroke="#000" stroke-width="0.12">70.00</text><text transform="translate(1048.00 445.60) scale(0.920 1)" font-size="6.40" fill="#000" stroke="#000" stroke-width="0.12">30.00</text><text transform="translate(1048.00 451.90) scale(0.920 1)" font-size="6.40" fill="#000" stroke="#000" stroke-width="0.12">0.00</text><text transform="translate(2.50 461.60) scale(0.920 1)" font-size="6.40" fill="#000" stroke="#000" stroke-width="0.12">14 Feb 2024</text><text transform="translate(43.80 461.60) scale(0.920 1)" font-size="6.40" fill="#000" stroke="#000" stroke-width="0.12">14 Feb 21:02</text><text transform="translate(85.10 461.60) scale(0.920 1)" font-size="6.40" fill="#000" stroke="#000" stroke-width="0.12">14 Feb 21:10</text><text transform="translate(126.40 461.60) scale(0.920 1)" font-size="6.40" fill="#000" stroke="#000" stroke-width="0.12">14 Feb 21:18</text><text transform="translate(167.70 461.60) scale(0.920 1)" font-size="6.40" fill="#000" stroke="#000" stroke-width="0.12">14 Feb 21:26</text><text transform="translate(209.00 461.60) scale(0.920 1)" font-size="6.40" fill="#000" stroke="#000" stroke-width="0.12">14 Feb 21:34</text><text transform="translate(250.30 461.60) scale(0.920 1)" font-size="6.40" fill="#000" stroke="#000" stroke-width="0.12">14 Feb 21:42</text><text transform="translate(291.60 461.60) scale(0.920 1)" font-size="6.40" fill="#000" stroke="#000" stroke-width="0.12">14 Feb 21:50</text><text transform="translate(332.90 461.60) scale(0.920 1)" font-size="6.40" fill="#000" stroke="#000" stroke-width="0.12">14 Feb 22:13</text><text transform="translate(374.20 461.60) scale(0.920 1)" font-size="6.40" fill="#000" stroke="#000" stroke-width="0.12">14 Feb 22:21</text><text transform="translate(415.50 461.60) scale(0.920 1)" font-size="6.40" fill="#000" stroke="#000" stroke-width="0.12">14 Feb 22:29</text><text transform="translate(456.80 461.60) scale(0.920 1)" font-size="6.40" fill="#000" stroke="#000" stroke-width="0.12">14 Feb 22:37</text><text transform="translate(498.10 461.60) scale(0.920 1)" font-size="6.40" fill="#000" stroke="#000" stroke-width="0.12">14 Feb 22:46</text><text transform="translate(539.40 461.60) scale(0.920 1)" font-size="6.40" fill="#000" stroke="#000" stroke-width="0.12">14 Feb 22:54</text><text transform="translate(580.70 461.60) scale(0.920 1)" font-size="6.40" fill="#000" stroke="#000" stroke-width="0.12">14 Feb 23:02</text><text transform="translate(622.00 461.60) scale(0.920 1)" font-size="6.40" fill="#000" stroke="#000" stroke-width="0.12">14 Feb 23:10</text><text transform="translate(663.30 461.60) scale(0.920 1)" font-size="6.40" fill="#000" stroke="#000" stroke-width="0.12">14 Feb 23:18</text><text transform="translate(704.60 461.60) scale(0.920 1)" font-size="6.40" fill="#000" stroke="#000" stroke-width="0.12">14 Feb 23:26</text><text transform="translate(745.90 461.60) scale(0.920 1)" font-size="6.40" fill="#000" stroke="#000" stroke-width="0.12">14 Feb 23:34</text><text transform="translate(787.20 461.60) scale(0.920 1)" font-size="6.40" fill="#000" stroke="#000" stroke-width="0.12">14 Feb 23:42</text><text transform="translate(828.50 461.60) scale(0.920 1)" font-size="6.40" fill="#000" stroke="#000" stroke-width="0.12">14 Feb 23:50</text><text transform="translate(869.80 461.60) scale(0.920 1)" font-size="6.40" fill="#000" stroke="#000" stroke-width="0.12">14 Feb 23:58</text><text transform="translate(911.10 461.60) scale(0.920 1)" font-size="6.40" fill="#000" stroke="#000" stroke-width="0.12">15 Feb 00:06</text><text transform="translate(952.40 461.60) scale(0.920 1)" font-size="6.40" fill="#000" stroke="#000" stroke-width="0.12">15 Feb 00:14</text><text transform="translate(993.70 461.60) scale(0.920 1)" font-size="6.40" fill="#000" stroke="#000" stroke-width="0.12">15 Feb 00:22</text><text transform="translate(1035.00 461.60) scale(0.920 1)" font-size="6.40" fill="#000" stroke="#000" stroke-width="0.12">15 Feb 00:30</text></g>
<rect x="1046.3" y="221" width="25.5" height="6.8" fill="#ff0000"/>
<rect x="1046.2" y="368.1" width="25.8" height="6.9" fill="#26a69a"/>
<g filter="url(#gs)"><text transform="translate(1048.00 226.60) scale(0.920 1)" font-size="6.40" fill="#fff" stroke="#fff" stroke-width="0.12">0.64898</text><text transform="translate(1048.00 373.80) scale(0.920 1)" font-size="6.40" fill="#fff" stroke="#fff" stroke-width="0.12">0.64816</text></g>
</svg></body></html>
